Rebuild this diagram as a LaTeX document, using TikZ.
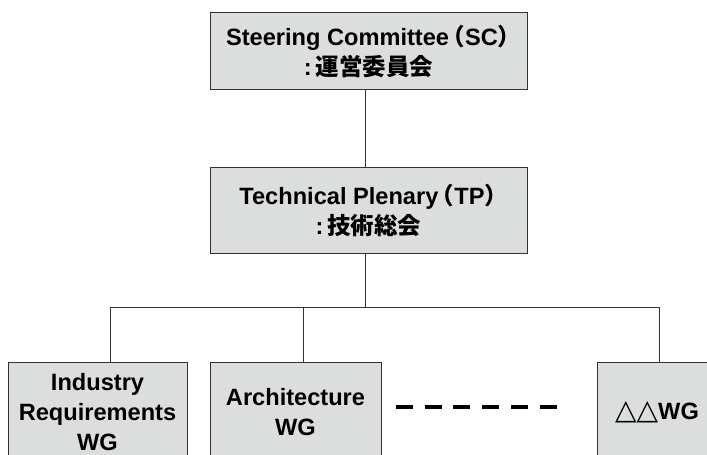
\documentclass[tikz,border=0pt]{standalone}
\usepackage{fontspec}
\setmainfont{Liberation Sans}
\newfontfamily\cjk{Noto Sans CJK JP}
\newfontfamily\symf{DejaVu Sans}
\newcommand\jp[1]{{\fontsize{23.5}{30}\selectfont\cjk #1}}
\newcommand\lpar{\jp{\makebox[16pt][r]{（}}}
\newcommand\rpar{\jp{\makebox[13pt][l]{）}}}
\newcommand\tri[1]{{\fontsize{28}{30}\selectfont\symf #1}}
\definecolor{boxgray}{RGB}{220,221,221}
\definecolor{linegray}{RGB}{50,50,50}
\begin{document}
\begin{tikzpicture}[x=1pt,y=-1pt,
  box/.style={draw=linegray, fill=boxgray, line width=0.9pt, align=center, inner sep=0pt,
              font=\fontsize{23.6}{30}\selectfont\bfseries},
  conn/.style={draw=linegray, line width=0.9pt},
  dashline/.style={draw=black, line width=4.3pt, dash pattern=on 17pt off 11.7pt}]
\useasboundingbox (0,0) rectangle (707,455);
\clip (0,0) rectangle (707,455);
% connector geometry
\coordinate (trunk) at (365,0);
\coordinate (bus) at (0,307);
\coordinate (irdrop) at (110,0);
\coordinate (archdrop) at (303,0);
\coordinate (dddrop) at (659,0);
% boxes
\node[box, minimum width=317pt, minimum height=77pt] (sc) at (368.5,51.4)
  {Steering Committee\lpar SC\rpar\\:\hspace{4pt}\jp{運営委員会}};
\node[box, minimum width=317pt, minimum height=86pt] (tp) at (368.5,210)
  {Technical Plenary\lpar TP\rpar\\:\hspace{4pt}\jp{技術総会}};
\node[box, minimum width=179pt, minimum height=100pt] (ir) at (97.5,412)
  {Industry\\Requirements\\WG};
\node[box, minimum width=171pt, minimum height=100pt] (arch) at (295.5,412)
  {Architecture\\WG};
\node[box, minimum width=120pt, minimum height=100pt] (dd) at (657,412)
  {\tri{△△}WG};
% connectors
\draw[conn] (sc.south -| trunk) -- (tp.north -| trunk);
\draw[conn] (tp.south -| trunk) -- (trunk |- bus);
\draw[conn] (ir.north -| irdrop) -- (irdrop |- bus) -- (dddrop |- bus) -- (dd.north -| dddrop);
\draw[conn] (archdrop |- bus) -- (arch.north -| archdrop);
% ellipsis dashes
\coordinate (d1) at (396,407);
\coordinate (d2) at (556.5,407);
\draw[dashline] (d1) -- (d2);
\end{tikzpicture}
\end{document}
